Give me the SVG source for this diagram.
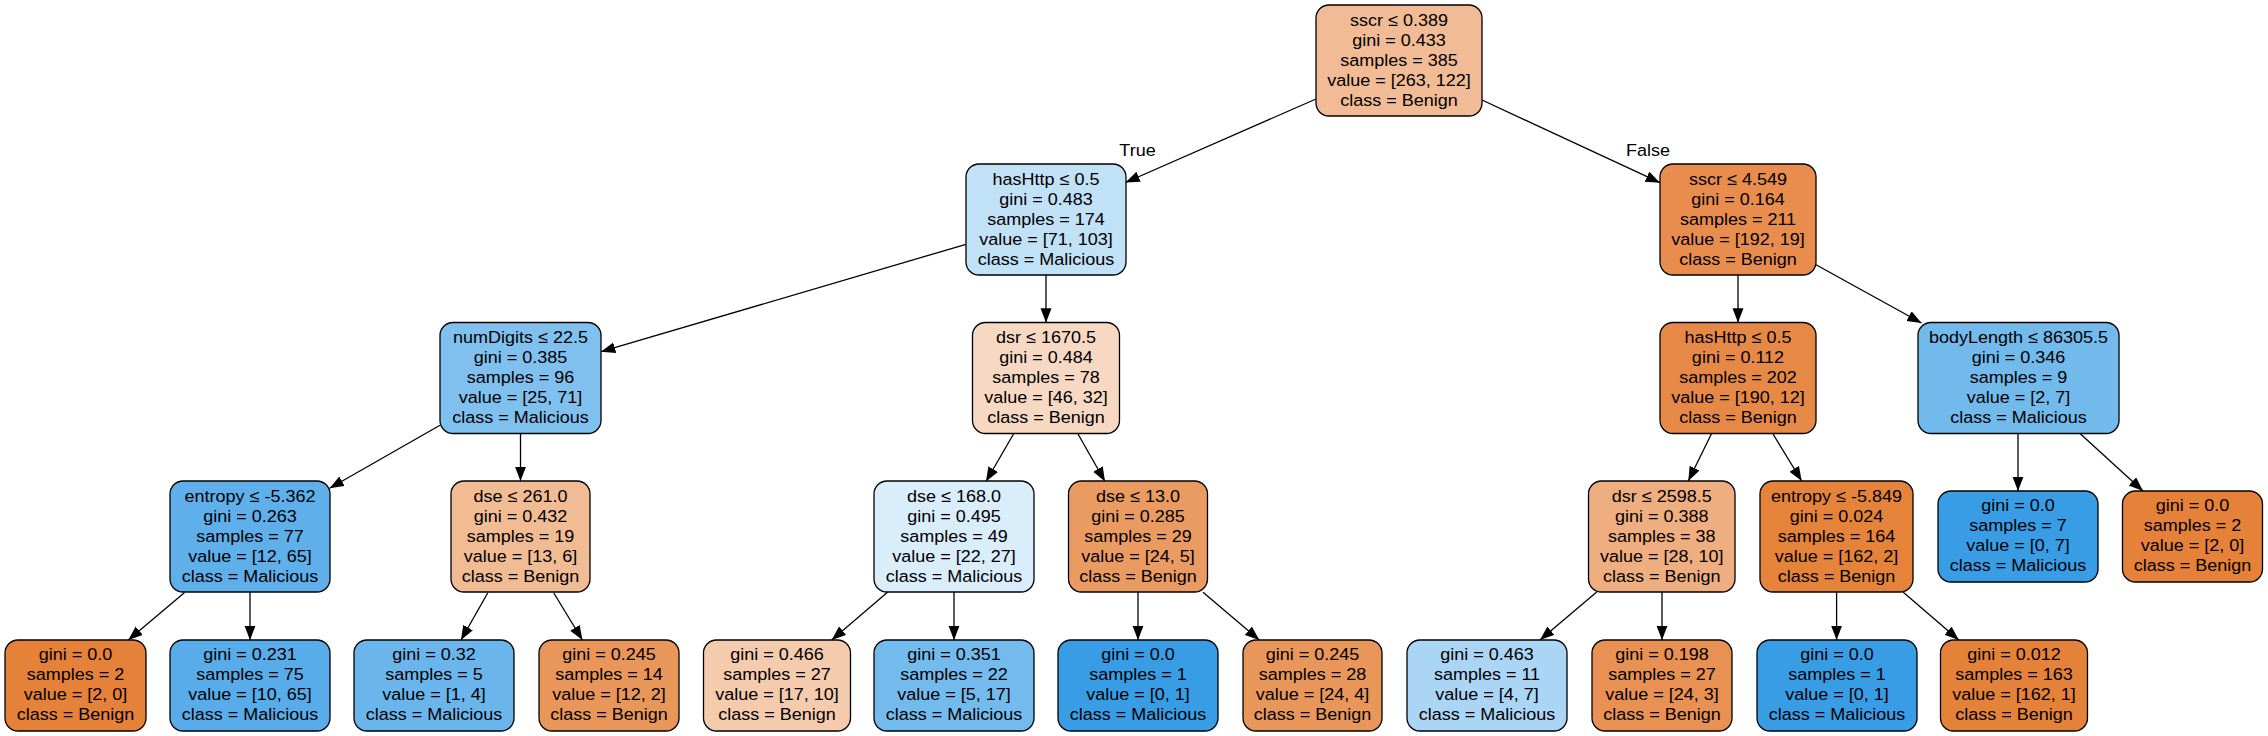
<svg xmlns="http://www.w3.org/2000/svg" width="2268" height="736" viewBox="0 0 2268 736">
<style>
.node rect{stroke:#000;stroke-width:1.3}
text{font-family:"Liberation Sans",Arial,Helvetica,sans-serif;font-size:17px;fill:#000;text-anchor:middle}
.edges line{stroke:#000;stroke-width:1.3;marker-end:url(#arr)}
</style>
<defs>
<marker id="arr" markerUnits="userSpaceOnUse" markerWidth="16" markerHeight="12" refX="14.3" refY="5.5" orient="auto">
<path d="M0,0 L14.3,5.5 L0,11 z" fill="#000"/>
</marker>
</defs>
<rect width="2268" height="736" fill="#fff"/>
<g class="edges" id="edges">
<line x1="1316" y1="99" x2="1125.5" y2="182.5"/>
<line x1="1482" y1="100" x2="1660" y2="182.7"/>
<line x1="966" y1="244.3" x2="601" y2="351.7"/>
<line x1="1046" y1="275" x2="1046" y2="322.5"/>
<line x1="1738" y1="275" x2="1738" y2="322.5"/>
<line x1="1816" y1="264.7" x2="1921.5" y2="323"/>
<line x1="440" y1="425.3" x2="329.6" y2="488.3"/>
<line x1="520.5" y1="433.5" x2="520.5" y2="481"/>
<line x1="1013.5" y1="434" x2="986" y2="481.5"/>
<line x1="1078" y1="434" x2="1105" y2="481.5"/>
<line x1="1711.6" y1="433.5" x2="1688.3" y2="481"/>
<line x1="1772.7" y1="433.5" x2="1801.7" y2="481"/>
<line x1="2018" y1="433.5" x2="2018" y2="491"/>
<line x1="2080" y1="433.5" x2="2143" y2="491"/>
<line x1="184.3" y1="592.7" x2="128.3" y2="640"/>
<line x1="250" y1="592" x2="250" y2="640"/>
<line x1="487.7" y1="593" x2="461" y2="640"/>
<line x1="553.8" y1="593" x2="582.4" y2="640"/>
<line x1="887.5" y1="592.3" x2="831.7" y2="640"/>
<line x1="954" y1="592" x2="954" y2="640"/>
<line x1="1138" y1="592" x2="1138" y2="640"/>
<line x1="1203" y1="592.3" x2="1259.3" y2="640"/>
<line x1="1596.7" y1="592" x2="1540" y2="640"/>
<line x1="1662" y1="592" x2="1662" y2="640"/>
<line x1="1836.6" y1="592" x2="1836.6" y2="640"/>
<line x1="1903" y1="592" x2="1958.8" y2="640"/>
<g transform="translate(1137.5,156) scale(1.06,1)"><text x="0" y="0">True</text></g>
<g transform="translate(1648,156) scale(1.06,1)"><text x="0" y="0">False</text></g>
</g>

<g id="n0" class="node"><rect x="1316" y="5" width="166" height="111" rx="13" fill="#f1bb95"/><g transform="translate(1399,5) scale(1.06,1)"><text y="21"><tspan x="0">sscr ≤ 0.389</tspan><tspan x="0" dy="19.9">gini = 0.433</tspan><tspan x="0" dy="19.9">samples = 385</tspan><tspan x="0" dy="19.9">value = [263, 122]</tspan><tspan x="0" dy="19.9">class = Benign</tspan></text></g></g>

<g id="n1" class="node"><rect x="966" y="164" width="160" height="111" rx="13" fill="#c1e1f7"/><g transform="translate(1046,164) scale(1.06,1)"><text y="21"><tspan x="0">hasHttp ≤ 0.5</tspan><tspan x="0" dy="19.9">gini = 0.483</tspan><tspan x="0" dy="19.9">samples = 174</tspan><tspan x="0" dy="19.9">value = [71, 103]</tspan><tspan x="0" dy="19.9">class = Malicious</tspan></text></g></g>

<g id="n2" class="node"><rect x="440" y="322.5" width="161" height="111" rx="13" fill="#7fc0ee"/><g transform="translate(520.5,322.5) scale(1.06,1)"><text y="21"><tspan x="0">numDigits ≤ 22.5</tspan><tspan x="0" dy="19.9">gini = 0.385</tspan><tspan x="0" dy="19.9">samples = 96</tspan><tspan x="0" dy="19.9">value = [25, 71]</tspan><tspan x="0" dy="19.9">class = Malicious</tspan></text></g></g>

<g id="n3" class="node"><rect x="170" y="481" width="160" height="111" rx="13" fill="#5eafea"/><g transform="translate(250,481) scale(1.06,1)"><text y="21"><tspan x="0">entropy ≤ -5.362</tspan><tspan x="0" dy="19.9">gini = 0.263</tspan><tspan x="0" dy="19.9">samples = 77</tspan><tspan x="0" dy="19.9">value = [12, 65]</tspan><tspan x="0" dy="19.9">class = Malicious</tspan></text></g></g>

<g id="n4" class="node"><rect x="5" y="640" width="141" height="91" rx="13" fill="#e58139"/><g transform="translate(75.5,640) scale(1.06,1)"><text y="20.3"><tspan x="0">gini = 0.0</tspan><tspan x="0" dy="19.9">samples = 2</tspan><tspan x="0" dy="19.9">value = [2, 0]</tspan><tspan x="0" dy="19.9">class = Benign</tspan></text></g></g>

<g id="n5" class="node"><rect x="170" y="640" width="160" height="91" rx="13" fill="#57ace9"/><g transform="translate(250,640) scale(1.06,1)"><text y="20.3"><tspan x="0">gini = 0.231</tspan><tspan x="0" dy="19.9">samples = 75</tspan><tspan x="0" dy="19.9">value = [10, 65]</tspan><tspan x="0" dy="19.9">class = Malicious</tspan></text></g></g>

<g id="n6" class="node"><rect x="451" y="481" width="139" height="111" rx="13" fill="#f1bb94"/><g transform="translate(520.5,481) scale(1.06,1)"><text y="21"><tspan x="0">dse ≤ 261.0</tspan><tspan x="0" dy="19.9">gini = 0.432</tspan><tspan x="0" dy="19.9">samples = 19</tspan><tspan x="0" dy="19.9">value = [13, 6]</tspan><tspan x="0" dy="19.9">class = Benign</tspan></text></g></g>

<g id="n7" class="node"><rect x="354" y="640" width="160" height="91" rx="13" fill="#6ab6ec"/><g transform="translate(434,640) scale(1.06,1)"><text y="20.3"><tspan x="0">gini = 0.32</tspan><tspan x="0" dy="19.9">samples = 5</tspan><tspan x="0" dy="19.9">value = [1, 4]</tspan><tspan x="0" dy="19.9">class = Malicious</tspan></text></g></g>

<g id="n8" class="node"><rect x="539" y="640" width="140" height="91" rx="13" fill="#e9965a"/><g transform="translate(609,640) scale(1.06,1)"><text y="20.3"><tspan x="0">gini = 0.245</tspan><tspan x="0" dy="19.9">samples = 14</tspan><tspan x="0" dy="19.9">value = [12, 2]</tspan><tspan x="0" dy="19.9">class = Benign</tspan></text></g></g>

<g id="n9" class="node"><rect x="972.5" y="322.5" width="147" height="111" rx="13" fill="#f7d9c3"/><g transform="translate(1046,322.5) scale(1.06,1)"><text y="21"><tspan x="0">dsr ≤ 1670.5</tspan><tspan x="0" dy="19.9">gini = 0.484</tspan><tspan x="0" dy="19.9">samples = 78</tspan><tspan x="0" dy="19.9">value = [46, 32]</tspan><tspan x="0" dy="19.9">class = Benign</tspan></text></g></g>

<g id="n10" class="node"><rect x="874" y="481" width="160" height="111" rx="13" fill="#daedfa"/><g transform="translate(954,481) scale(1.06,1)"><text y="21"><tspan x="0">dse ≤ 168.0</tspan><tspan x="0" dy="19.9">gini = 0.495</tspan><tspan x="0" dy="19.9">samples = 49</tspan><tspan x="0" dy="19.9">value = [22, 27]</tspan><tspan x="0" dy="19.9">class = Malicious</tspan></text></g></g>

<g id="n11" class="node"><rect x="703.5" y="640" width="147" height="91" rx="13" fill="#f4cbad"/><g transform="translate(777,640) scale(1.06,1)"><text y="20.3"><tspan x="0">gini = 0.466</tspan><tspan x="0" dy="19.9">samples = 27</tspan><tspan x="0" dy="19.9">value = [17, 10]</tspan><tspan x="0" dy="19.9">class = Benign</tspan></text></g></g>

<g id="n12" class="node"><rect x="874" y="640" width="160" height="91" rx="13" fill="#73baed"/><g transform="translate(954,640) scale(1.06,1)"><text y="20.3"><tspan x="0">gini = 0.351</tspan><tspan x="0" dy="19.9">samples = 22</tspan><tspan x="0" dy="19.9">value = [5, 17]</tspan><tspan x="0" dy="19.9">class = Malicious</tspan></text></g></g>

<g id="n13" class="node"><rect x="1068.5" y="481" width="139" height="111" rx="13" fill="#ea9b62"/><g transform="translate(1138,481) scale(1.06,1)"><text y="21"><tspan x="0">dse ≤ 13.0</tspan><tspan x="0" dy="19.9">gini = 0.285</tspan><tspan x="0" dy="19.9">samples = 29</tspan><tspan x="0" dy="19.9">value = [24, 5]</tspan><tspan x="0" dy="19.9">class = Benign</tspan></text></g></g>

<g id="n14" class="node"><rect x="1058" y="640" width="160" height="91" rx="13" fill="#399de5"/><g transform="translate(1138,640) scale(1.06,1)"><text y="20.3"><tspan x="0">gini = 0.0</tspan><tspan x="0" dy="19.9">samples = 1</tspan><tspan x="0" dy="19.9">value = [0, 1]</tspan><tspan x="0" dy="19.9">class = Malicious</tspan></text></g></g>

<g id="n15" class="node"><rect x="1243" y="640" width="139" height="91" rx="13" fill="#e9965a"/><g transform="translate(1312.5,640) scale(1.06,1)"><text y="20.3"><tspan x="0">gini = 0.245</tspan><tspan x="0" dy="19.9">samples = 28</tspan><tspan x="0" dy="19.9">value = [24, 4]</tspan><tspan x="0" dy="19.9">class = Benign</tspan></text></g></g>

<g id="n16" class="node"><rect x="1660" y="164" width="156" height="111" rx="13" fill="#e88d4d"/><g transform="translate(1738,164) scale(1.06,1)"><text y="21"><tspan x="0">sscr ≤ 4.549</tspan><tspan x="0" dy="19.9">gini = 0.164</tspan><tspan x="0" dy="19.9">samples = 211</tspan><tspan x="0" dy="19.9">value = [192, 19]</tspan><tspan x="0" dy="19.9">class = Benign</tspan></text></g></g>

<g id="n17" class="node"><rect x="1660" y="322.5" width="156" height="111" rx="13" fill="#e78946"/><g transform="translate(1738,322.5) scale(1.06,1)"><text y="21"><tspan x="0">hasHttp ≤ 0.5</tspan><tspan x="0" dy="19.9">gini = 0.112</tspan><tspan x="0" dy="19.9">samples = 202</tspan><tspan x="0" dy="19.9">value = [190, 12]</tspan><tspan x="0" dy="19.9">class = Benign</tspan></text></g></g>

<g id="n18" class="node"><rect x="1588.5" y="481" width="146.5" height="111" rx="13" fill="#eeae80"/><g transform="translate(1661.75,481) scale(1.06,1)"><text y="21"><tspan x="0">dsr ≤ 2598.5</tspan><tspan x="0" dy="19.9">gini = 0.388</tspan><tspan x="0" dy="19.9">samples = 38</tspan><tspan x="0" dy="19.9">value = [28, 10]</tspan><tspan x="0" dy="19.9">class = Benign</tspan></text></g></g>

<g id="n19" class="node"><rect x="1407" y="640" width="160" height="91" rx="13" fill="#aad5f4"/><g transform="translate(1487,640) scale(1.06,1)"><text y="20.3"><tspan x="0">gini = 0.463</tspan><tspan x="0" dy="19.9">samples = 11</tspan><tspan x="0" dy="19.9">value = [4, 7]</tspan><tspan x="0" dy="19.9">class = Malicious</tspan></text></g></g>

<g id="n20" class="node"><rect x="1592" y="640" width="140" height="91" rx="13" fill="#e89152"/><g transform="translate(1662,640) scale(1.06,1)"><text y="20.3"><tspan x="0">gini = 0.198</tspan><tspan x="0" dy="19.9">samples = 27</tspan><tspan x="0" dy="19.9">value = [24, 3]</tspan><tspan x="0" dy="19.9">class = Benign</tspan></text></g></g>

<g id="n21" class="node"><rect x="1760" y="481" width="153" height="111" rx="13" fill="#e5833b"/><g transform="translate(1836.5,481) scale(1.06,1)"><text y="21"><tspan x="0">entropy ≤ -5.849</tspan><tspan x="0" dy="19.9">gini = 0.024</tspan><tspan x="0" dy="19.9">samples = 164</tspan><tspan x="0" dy="19.9">value = [162, 2]</tspan><tspan x="0" dy="19.9">class = Benign</tspan></text></g></g>

<g id="n22" class="node"><rect x="1757" y="640" width="160" height="91" rx="13" fill="#399de5"/><g transform="translate(1837,640) scale(1.06,1)"><text y="20.3"><tspan x="0">gini = 0.0</tspan><tspan x="0" dy="19.9">samples = 1</tspan><tspan x="0" dy="19.9">value = [0, 1]</tspan><tspan x="0" dy="19.9">class = Malicious</tspan></text></g></g>

<g id="n23" class="node"><rect x="1940.5" y="640" width="147" height="91" rx="13" fill="#e5823a"/><g transform="translate(2014,640) scale(1.06,1)"><text y="20.3"><tspan x="0">gini = 0.012</tspan><tspan x="0" dy="19.9">samples = 163</tspan><tspan x="0" dy="19.9">value = [162, 1]</tspan><tspan x="0" dy="19.9">class = Benign</tspan></text></g></g>

<g id="n24" class="node"><rect x="1918" y="322.5" width="201" height="111" rx="13" fill="#72b9ec"/><g transform="translate(2018.5,322.5) scale(1.06,1)"><text y="21"><tspan x="0">bodyLength ≤ 86305.5</tspan><tspan x="0" dy="19.9">gini = 0.346</tspan><tspan x="0" dy="19.9">samples = 9</tspan><tspan x="0" dy="19.9">value = [2, 7]</tspan><tspan x="0" dy="19.9">class = Malicious</tspan></text></g></g>

<g id="n25" class="node"><rect x="1938" y="491" width="160" height="91" rx="13" fill="#399de5"/><g transform="translate(2018,491) scale(1.06,1)"><text y="20.3"><tspan x="0">gini = 0.0</tspan><tspan x="0" dy="19.9">samples = 7</tspan><tspan x="0" dy="19.9">value = [0, 7]</tspan><tspan x="0" dy="19.9">class = Malicious</tspan></text></g></g>

<g id="n26" class="node"><rect x="2122.5" y="491" width="140" height="91" rx="13" fill="#e58139"/><g transform="translate(2192.5,491) scale(1.06,1)"><text y="20.3"><tspan x="0">gini = 0.0</tspan><tspan x="0" dy="19.9">samples = 2</tspan><tspan x="0" dy="19.9">value = [2, 0]</tspan><tspan x="0" dy="19.9">class = Benign</tspan></text></g></g>
</svg>
